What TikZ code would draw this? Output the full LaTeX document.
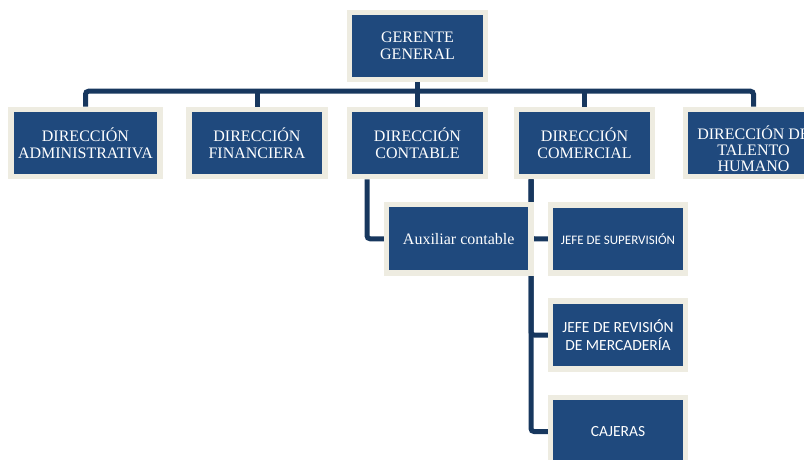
\documentclass[tikz,border=0pt]{standalone}
\usepackage{fontspec}
\setmainfont{Liberation Serif}
\newfontfamily\calibrifont{Carlito}
\usetikzlibrary{backgrounds}
\definecolor{boxblue}{RGB}{31,73,125}
\definecolor{framebeige}{RGB}{238,236,225}
\definecolor{linenavy}{RGB}{23,55,94}

\begin{document}
\begin{tikzpicture}[x=1pt,y=-1pt,
  cargo/.style={draw=framebeige,fill=boxblue,line width=5.5pt,text=white,inner sep=0pt,
    minimum width=136pt,minimum height=67pt,align=center,font=\fontsize{16}{17}\selectfont},
  jefe/.style={cargo,minimum width=135pt,minimum height=68pt,font=\calibrifont\fontsize{15.5}{18}\selectfont},
  conn/.style={draw=linenavy,line width=5pt,rounded corners=3pt}]

\useasboundingbox (0,0) rectangle (804,460);
\clip (0,0) rectangle (804,460);

% top
\node[cargo] (gg) at (417.5,46) {GERENTE\\GENERAL};

% direcciones
\node[cargo,minimum width=149pt] (adm) at (85.5,143) {DIRECCIÓN\\ADMINISTRATIVA};
\node[cargo] (fin) at (257,143) {DIRECCIÓN\\FINANCIERA};
\node[cargo] (con) at (417.5,143) {DIRECCIÓN\\CONTABLE};
\node[cargo] (com) at (584.5,143) {DIRECCIÓN\\COMERCIAL};
\node[cargo,font=\fontsize{16}{16}\selectfont] (tal) at (753.5,143) {\rule{0pt}{26pt}DIRECCIÓN DE\\TALENTO\\HUMANO};

% tercer nivel
\node[cargo,minimum width=144.5pt,minimum height=68.5pt] (aux) at (458.75,238.75) {Auxiliar contable};
\node[jefe,font=\calibrifont\fontsize{13}{16}\selectfont] (sup) at (618,238.75) {JEFE DE SUPERVISIÓN};
\node[jefe] (rev) at (618,335) {JEFE DE REVISIÓN\\DE MERCADERÍA};
\node[jefe] (caj) at (618,431.5) {CAJERAS};

\begin{scope}[on background layer]
\draw[conn] (adm.north) -- ++(0,-15.5) -| (tal.north);
\draw[conn] (gg.south) -- (con.north);
\draw[conn] (fin.north) -- ++(0,-15.5);
\draw[conn] (com.north) -- ++(0,-15.5);
\draw[conn] ([xshift=-50.5pt]con.south) |- (aux.west);
\draw[conn] ([xshift=-53.5pt]com.south) |- (caj.west);
\draw[conn] ([xshift=-53.5pt]com.south) |- (sup.west);
\draw[conn] ([xshift=-53.5pt]com.south) |- (rev.west);
\end{scope}
\end{tikzpicture}
\end{document}
